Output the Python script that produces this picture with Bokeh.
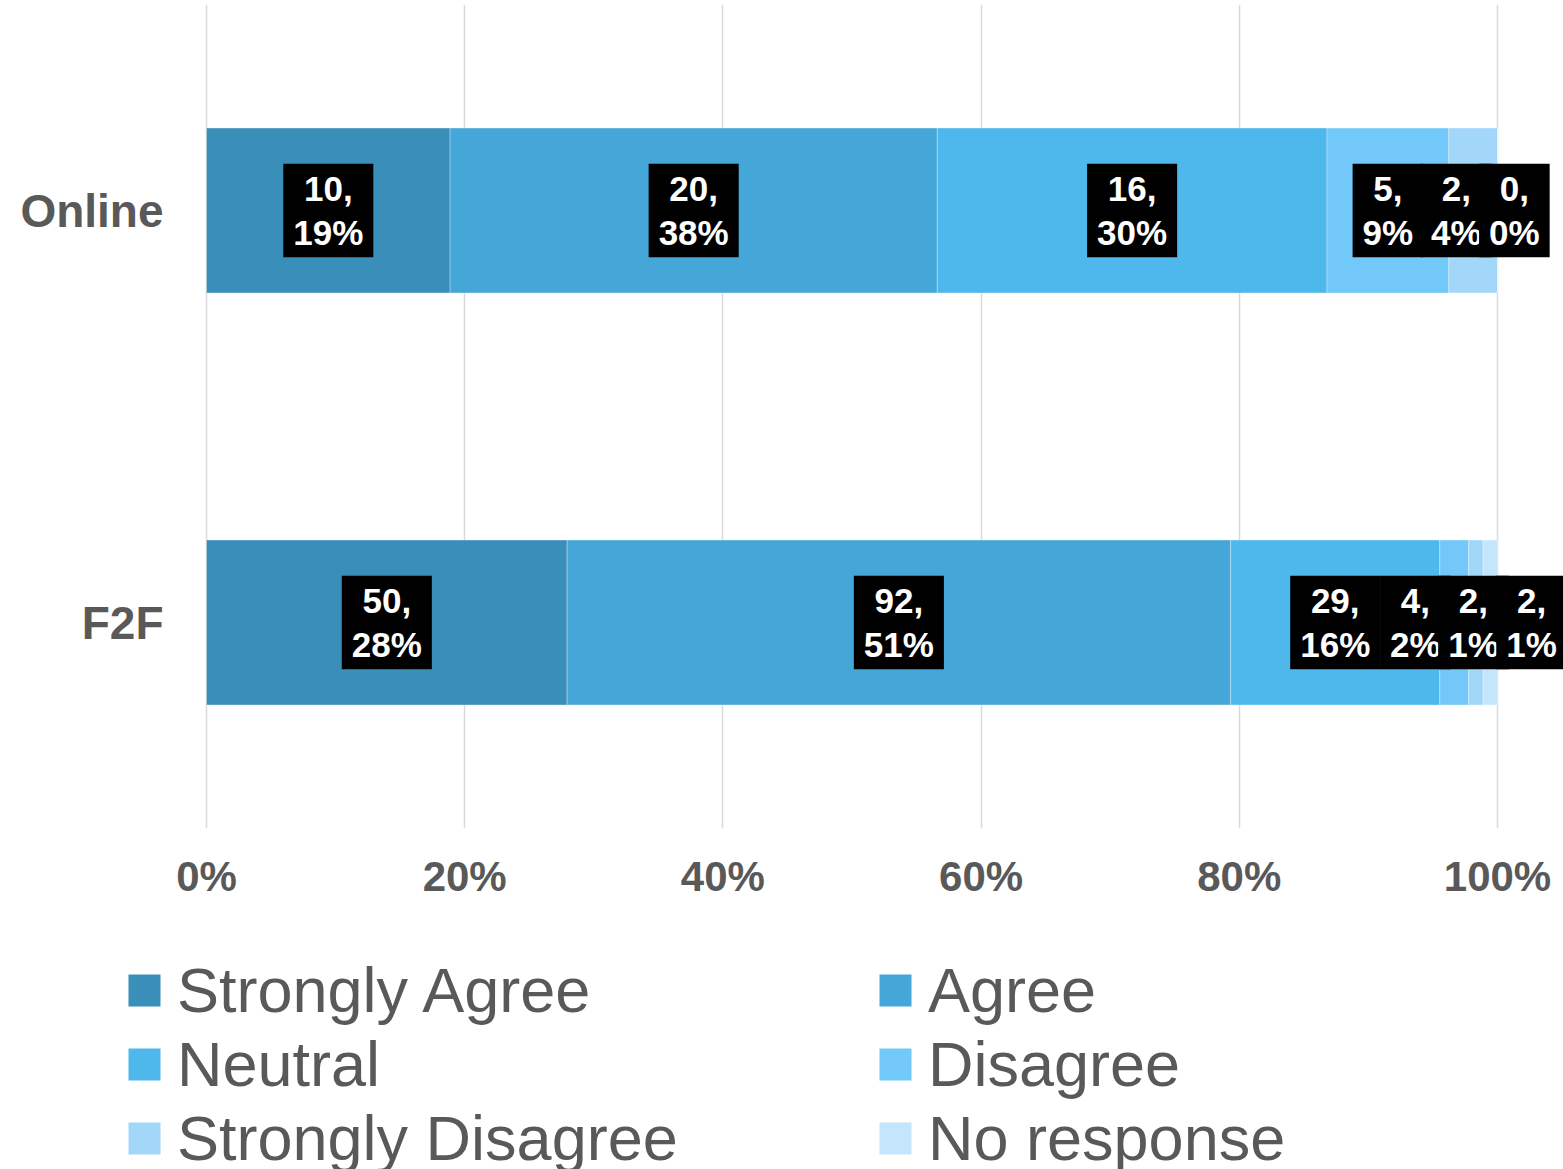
from bokeh.plotting import figure
from bokeh.layouts import column
from bokeh.models import (ColumnDataSource, Range1d, FactorRange, FixedTicker,
                          NumeralTickFormatter, Legend, LegendItem)
from bokeh.embed import file_html
from bokeh.resources import INLINE
from bokeh.core.properties import value

# ---------------- data ----------------
groups = ["Online", "F2F"]
categories = ["Strongly Agree", "Agree", "Neutral", "Disagree",
              "Strongly Disagree", "No response"]
online_counts = [10, 20, 16, 5, 2, 0]
f2f_counts = [50, 92, 29, 4, 2, 2]
tick_values = [0, 0.2, 0.4, 0.6, 0.8, 1.0]

# ---------------- style ----------------
colors = ["#3A8EBA", "#45A7D8", "#4EB8EC", "#72C8F8", "#A3D7FA", "#C4E5FB"]
FONT = "Liberation Sans"
GRAY = "#595959"
W, H = 1563, 1169
MAIN_H = 940
TOP = 4
FRAME_BOTTOM = 828
FULL_PX = 1291          # pixels from 0% to 100%
ZERO_PX = 206           # pixel of 0%
YLABEL_RIGHT_PX = 163   # right edge of the category labels
LABEL_GAP = 0.045       # min distance between neighbouring data labels

counts = {"Online": online_counts, "F2F": f2f_counts}

x_start = -ZERO_PX / FULL_PX
x_end = (W - ZERO_PX) / FULL_PX
p = figure(width=W, height=MAIN_H, output_backend="svg", toolbar_location=None,
           x_range=Range1d(x_start, x_end),
           y_range=FactorRange(factors=list(reversed(groups)), range_padding=0),
           y_axis_location=None,
           min_border_left=0, min_border_right=0, min_border_top=TOP,
           min_border_bottom=MAIN_H - FRAME_BOTTOM)
p.outline_line_color = None
p.background_fill_color = "white"
p.border_fill_color = "white"

# gridlines
p.xgrid.ticker = FixedTicker(ticks=tick_values)
p.xgrid.grid_line_color = "#D9D9D9"
p.xgrid.grid_line_width = 1.5
p.ygrid.grid_line_color = None

# stacked segments
fractions = {g: [c / sum(counts[g]) for c in counts[g]] for g in groups}
bounds = {g: [] for g in groups}
for g in groups:
    acc = 0.0
    for f in fractions[g]:
        bounds[g].append((acc, acc + f))
        acc += f

sources = []
for i, cat in enumerate(categories):
    src = ColumnDataSource(dict(
        y=groups,
        left=[bounds[g][i][0] for g in groups],
        right=[bounds[g][i][1] for g in groups],
    ))
    sources.append(src)
    p.hbar(y="y", left="left", right="right", height=0.4, source=src,
           fill_color=colors[i], line_color="white", line_alpha=0.3,
           line_width=1)

# category labels (left of the bars)
ysrc = ColumnDataSource(dict(x=[-(ZERO_PX - YLABEL_RIGHT_PX) / FULL_PX] * len(groups),
                             y=groups, text=groups))
p.text(x="x", y="y", text="text", source=ysrc, text_color=GRAY,
       text_font=value(FONT), text_font_style="bold", text_font_size="46px",
       text_align="right", text_baseline="middle")


def place(cl, centers, gap):
    m = sum(centers[i] for i in cl) / len(cl)
    n = len(cl)
    return [m + (k - (n - 1) / 2) * gap for k in range(n)]


def spread(centers, gap):
    clusters = []
    for i, c in enumerate(centers):
        clusters.append([i])
        while len(clusters) > 1:
            a, b = clusters[-2], clusters[-1]
            pa = place(a, centers, gap)
            pb = place(b, centers, gap)
            if pb[0] - pa[-1] < gap:
                clusters[-2:] = [a + b]
            else:
                break
    out = []
    for cl in clusters:
        out.extend(place(cl, centers, gap))
    return out


lx, ly, lt = [], [], []
for g in groups:
    centers = [(a + b) / 2 for a, b in bounds[g]]
    xs = spread(centers, LABEL_GAP)
    total = sum(counts[g])
    for i, c in enumerate(counts[g]):
        lx.append(xs[i])
        ly.append(g)
        lt.append(f"{c},\n{round(100 * c / total)}%")

# order labels series by series so later series draw on top
order = sorted(range(len(lx)), key=lambda k: (k % len(categories), k))
lsrc = ColumnDataSource(dict(x=[lx[k] for k in order], y=[ly[k] for k in order],
                             text=[lt[k] for k in order]))
p.text(x="x", y="y", text="text", source=lsrc, text_color="white",
       text_font=value(FONT), text_font_style="bold", text_font_size="35px",
       text_align="center", text_baseline="middle", text_line_height=1.14,
       background_fill_color="black",
       padding=dict(left=10, right=10, top=5, bottom=5))

# x axis
p.xaxis.ticker = FixedTicker(ticks=tick_values)
p.xaxis.formatter = NumeralTickFormatter(format="0%")
p.xaxis.axis_line_color = None
p.xaxis.major_tick_line_color = None
p.xaxis.minor_tick_line_color = None
p.xaxis.major_tick_out = 0
p.xaxis.major_tick_in = 0
p.xaxis.major_label_text_font = FONT
p.xaxis.major_label_text_font_style = "bold"
p.xaxis.major_label_text_font_size = "42px"
p.xaxis.major_label_text_color = GRAY
p.xaxis.major_label_standoff = 24

# ---------------- legend panel ----------------
# the panel's y range holds no group, so its bars are never drawn; they only
# provide the legend swatches
LEG_H = H - MAIN_H
q = figure(width=W, height=LEG_H, output_backend="svg", toolbar_location=None,
           x_range=Range1d(0, 1), y_range=FactorRange(factors=["legend"]),
           x_axis_location=None, y_axis_location=None, min_border=0)
q.outline_line_color = None
q.xgrid.grid_line_color = None
q.ygrid.grid_line_color = None

leg_renderers = []
for i, cat in enumerate(categories):
    leg_renderers.append(q.hbar(y="y", left="left", right="right", height=0.4,
                                source=sources[i], fill_color=colors[i],
                                line_color=None))

ROW = 74
SWATCH = 40   # the bar swatch is drawn at 80% of this box


def make_legend(idx, x_px, top_px):
    items = [LegendItem(label=categories[i], renderers=[leg_renderers[i]]) for i in idx]
    n = len(idx)
    leg = Legend(items=items, location=(x_px, LEG_H - top_px - n * ROW),
                 orientation="vertical",
                 glyph_width=SWATCH, glyph_height=SWATCH, label_standoff=13,
                 label_height=ROW, spacing=0, padding=0, margin=0,
                 label_text_font=FONT, label_text_font_size="63px",
                 label_text_color=GRAY, border_line_color=None,
                 background_fill_alpha=0)
    q.add_layout(leg, "center")

make_legend([0, 2, 4], 124, 953 - MAIN_H)
make_legend([1, 3, 5], 875, 953 - MAIN_H)

layout = column(p, q, spacing=0)
open("out.html", "w").write(file_html(layout, INLINE))
